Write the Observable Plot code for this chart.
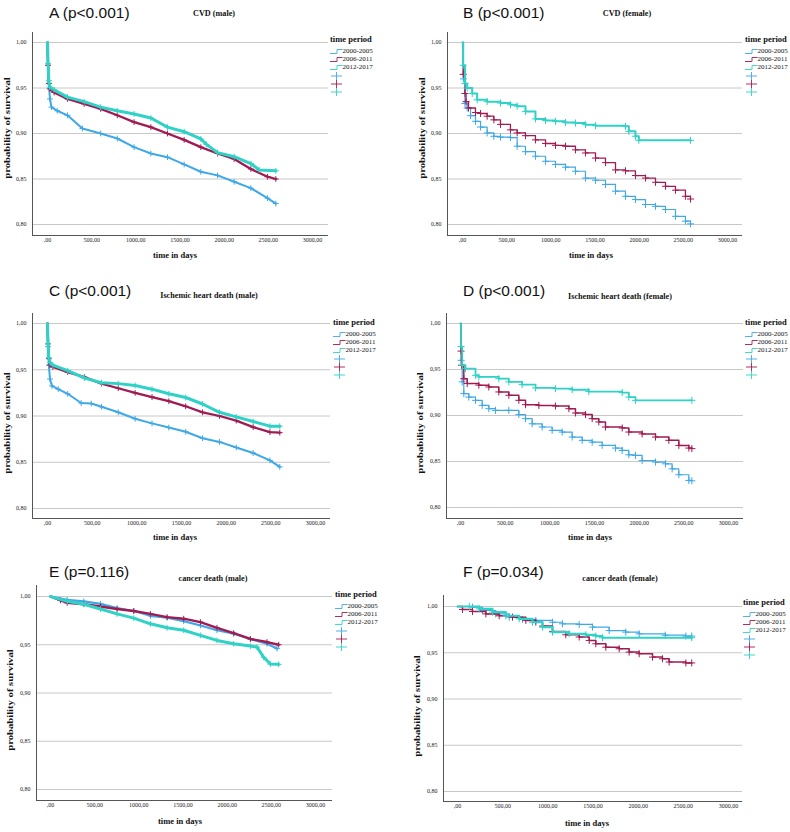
<!DOCTYPE html>
<html><head><meta charset="utf-8">
<script src="https://cdn.jsdelivr.net/npm/d3@7"></script>
<script src="https://cdn.jsdelivr.net/npm/@observablehq/plot@0.6"></script>
<style>
body{margin:0;background:#fff;}
#page{position:relative;width:790px;height:832px;overflow:hidden;background:#fff;}
.t{position:absolute;white-space:nowrap;line-height:1;color:#111;}
.serif{font-family:"Liberation Serif","Times New Roman",serif;}
.sans{font-family:"Liberation Sans",Arial,sans-serif;}
svg text{font-family:"Liberation Serif","Times New Roman",serif;}
</style></head><body><div id="page"></div>
<script>
// ---------- labels ----------
const periods = ["2000-2005", "2006-2011", "2012-2017"];
const periodColors = ["#3fa8e6", "#a11b52", "#2fd2c6"];
const yTicks = [0.80, 0.85, 0.90, 0.95, 1.00];
const yTickLabels = ["0,80", "0,85", "0,90", "0,95", "1,00"];
const xTicks = [0, 500, 1000, 1500, 2000, 2500, 3000];
const xTickLabels = [",00", "500,00", "1000,00", "1500,00", "2000,00", "2500,00", "3000,00"];
const panelTitles = ["A (p<0.001)", "B (p<0.001)", "C (p<0.001)", "D (p<0.001)", "E (p=0.116)", "F (p=0.034)"];
const panelSubtitles = ["CVD (male)", "CVD (female)", "Ischemic heart death (male)", "Ischemic heart death (female)", "cancer death (male)", "cancer death (female)"];
const xLabel = "time in days";
const yLabel = "probability of survival";
const legendTitle = "time period";

// ---------- data: [day, survival] ----------
const cvdMale2000 = [[0,1],[6,0.975],[15,0.955],[28,0.938],[45,0.929],[110,0.925],[226,0.920],[395,0.9055],[602,0.900],[790,0.8945],[980,0.885],[1170,0.878],[1358,0.874],[1547,0.866],[1736,0.858],[1925,0.854],[2113,0.847],[2302,0.840],[2490,0.829],[2585,0.823]];
const cvdMale2006 = [[0,1],[6,0.975],[15,0.955],[25,0.949],[75,0.945],[226,0.938],[415,0.9325],[602,0.927],[790,0.920],[980,0.9125],[1170,0.907],[1358,0.900],[1547,0.893],[1736,0.885],[1925,0.878],[2113,0.872],[2302,0.861],[2490,0.8525],[2585,0.850]];
const cvdMale2012 = [[0,1],[6,0.977],[15,0.958],[25,0.951],[75,0.948],[226,0.940],[415,0.935],[602,0.929],[790,0.925],[980,0.9215],[1170,0.917],[1358,0.907],[1547,0.902],[1736,0.894],[1800,0.888],[1925,0.879],[2113,0.8745],[2302,0.867],[2396,0.860],[2585,0.859]];

const cvdFemale2000 = [[0,1],[10,0.96],[28,0.933],[53,0.928],[91,0.9196],[147,0.9134],[204,0.9071],[279,0.9006],[355,0.8969],[430,0.896],[543,0.8955],[619,0.886],[713,0.880],[826,0.875],[940,0.8695],[1053,0.866],[1166,0.863],[1279,0.8585],[1392,0.851],[1506,0.8486],[1619,0.844],[1732,0.8366],[1845,0.831],[1958,0.8274],[2072,0.822],[2185,0.820],[2298,0.8165],[2411,0.809],[2524,0.8037],[2581,0.8007]];
const cvdFemale2006 = [[0,1],[8,0.965],[28,0.944],[40,0.935],[68,0.928],[147,0.923],[204,0.922],[279,0.919],[355,0.915],[430,0.910],[543,0.904],[619,0.9006],[713,0.8976],[826,0.893],[940,0.889],[1053,0.887],[1166,0.886],[1279,0.882],[1392,0.8786],[1506,0.873],[1619,0.868],[1732,0.860],[1845,0.859],[1958,0.8538],[2072,0.851],[2185,0.8464],[2298,0.842],[2411,0.8377],[2524,0.831],[2581,0.828]];
const cvdFemale2012 = [[0,1],[8,0.975],[28,0.955],[53,0.950],[110,0.944],[166,0.937],[279,0.935],[430,0.9335],[543,0.9316],[619,0.930],[713,0.9243],[826,0.916],[940,0.9144],[1053,0.9134],[1166,0.912],[1279,0.9115],[1392,0.9097],[1506,0.9086],[1845,0.9079],[1883,0.9024],[1958,0.897],[1996,0.8925],[2581,0.8925]];

const ihdMale2000 = [[0,1],[6,0.975],[15,0.955],[28,0.940],[50,0.9325],[120,0.929],[226,0.924],[377,0.914],[490,0.9135],[604,0.910],[792,0.904],[981,0.897],[1170,0.892],[1358,0.8875],[1547,0.883],[1736,0.876],[1925,0.872],[2113,0.866],[2302,0.860],[2490,0.852],[2600,0.845]];
const ihdMale2006 = [[0,1],[6,0.978],[15,0.962],[28,0.955],[60,0.953],[226,0.9475],[415,0.942],[604,0.935],[792,0.930],[981,0.925],[1170,0.9205],[1358,0.916],[1547,0.9105],[1736,0.904],[1925,0.900],[2113,0.895],[2302,0.888],[2490,0.8825],[2600,0.882]];
const ihdMale2012 = [[0,1],[6,0.978],[15,0.963],[28,0.958],[60,0.955],[226,0.949],[415,0.941],[604,0.936],[792,0.935],[981,0.933],[1170,0.929],[1358,0.924],[1547,0.920],[1736,0.913],[1925,0.904],[2113,0.899],[2302,0.894],[2490,0.889],[2600,0.889]];

const ihdFemale2000 = [[0,1],[8,0.96],[19,0.9365],[37,0.9238],[93,0.920],[168,0.9165],[243,0.911],[317,0.9074],[392,0.9056],[541,0.9056],[653,0.901],[728,0.8966],[802,0.891],[914,0.8875],[1026,0.8838],[1138,0.882],[1250,0.8766],[1362,0.873],[1474,0.871],[1586,0.8675],[1735,0.8646],[1810,0.862],[1884,0.8573],[1959,0.8566],[2033,0.851],[2183,0.8494],[2295,0.8475],[2369,0.842],[2444,0.8356],[2556,0.8294],[2590,0.829]];
const ihdFemale2006 = [[0,1],[6,0.97],[11,0.9546],[37,0.940],[75,0.9347],[205,0.933],[317,0.931],[429,0.9256],[541,0.922],[653,0.9165],[728,0.9118],[877,0.911],[1063,0.9103],[1213,0.9074],[1287,0.9027],[1399,0.901],[1474,0.8966],[1548,0.893],[1623,0.8875],[1810,0.8864],[1884,0.882],[2033,0.880],[2183,0.8766],[2332,0.873],[2444,0.8675],[2556,0.8646],[2590,0.864]];
const ihdFemale2012 = [[0,1],[6,0.975],[19,0.9546],[56,0.951],[168,0.9437],[205,0.9419],[429,0.940],[541,0.9365],[690,0.9336],[840,0.930],[1063,0.9292],[1250,0.928],[1436,0.926],[1810,0.9249],[1884,0.920],[1959,0.9165],[2590,0.9165]];

const cancerMale2000 = [[0,1],[189,0.9966],[377,0.995],[566,0.9924],[754,0.988],[943,0.985],[1131,0.980],[1320,0.978],[1508,0.9745],[1697,0.970],[1885,0.965],[2074,0.9614],[2263,0.956],[2451,0.951],[2564,0.946]];
const cancerMale2006 = [[0,1],[113,0.996],[189,0.9934],[377,0.992],[566,0.9897],[754,0.987],[943,0.985],[1131,0.982],[1320,0.9786],[1508,0.977],[1697,0.9735],[1885,0.9676],[2074,0.962],[2263,0.956],[2451,0.9528],[2583,0.950]];
const cancerMale2012 = [[0,1],[189,0.995],[377,0.992],[566,0.987],[754,0.982],[943,0.9776],[1131,0.9717],[1320,0.9676],[1508,0.965],[1697,0.9597],[1885,0.9545],[2074,0.951],[2263,0.9486],[2338,0.9476],[2413,0.937],[2489,0.930],[2583,0.9297]];

const cancerFemale2000 = [[0,1],[166,0.9993],[277,0.9957],[424,0.992],[572,0.9885],[720,0.986],[867,0.985],[1052,0.983],[1162,0.9813],[1347,0.9806],[1494,0.9777],[1679,0.974],[1863,0.9723],[2011,0.9705],[2300,0.969],[2528,0.968],[2593,0.968]];
const cancerFemale2006 = [[0,1],[55,0.9968],[166,0.9946],[314,0.992],[461,0.990],[609,0.9885],[756,0.985],[867,0.983],[941,0.9788],[1052,0.973],[1199,0.9694],[1347,0.967],[1458,0.9633],[1531,0.9597],[1642,0.956],[1790,0.9543],[1900,0.9507],[2011,0.949],[2159,0.9453],[2269,0.9435],[2343,0.940],[2528,0.939],[2593,0.939]];
const cancerFemale2012 = [[0,1],[130,1.0],[240,0.9975],[387,0.9939],[535,0.990],[683,0.9867],[830,0.983],[941,0.9777],[1052,0.9723],[1236,0.9705],[1421,0.9694],[1531,0.968],[1605,0.9662],[2593,0.9662]];

// ---------- layout (page pixels) ----------
const panels = [
  {series:[cvdMale2000,cvdMale2006,cvdMale2012], curve:"linear", widths:[2,2.3,3], r:2,
   g:{left:32,right:328,top:32,bottom:235,x0:47,x3000:312,y100:42,y080:224},
   title:[49,18], sub:[214,17], xl:[175,258], yl:[7,128], leg:[330,42]},
  {series:[cvdFemale2000,cvdFemale2006,cvdFemale2012], curve:"step-after", widths:[1.2,1.3,2], r:2.4,
   g:{left:447,right:742,top:32,bottom:235,x0:462,x3000:727,y100:42,y080:224},
   title:[463,18], sub:[627,17], xl:[591,258], yl:[422,128], leg:[745,42]},
  {series:[ihdMale2000,ihdMale2006,ihdMale2012], curve:"linear", widths:[2,2.3,3], r:2,
   g:{left:32,right:330,top:313,bottom:518,x0:47,x3000:315,y100:323,y080:508},
   title:[49,296], sub:[209,299], xl:[175,540], yl:[7,423], leg:[333,325]},
  {series:[ihdFemale2000,ihdFemale2006,ihdFemale2012], curve:"step-after", widths:[1.2,1.5,1.8], r:2.4,
   g:{left:446,right:743,top:313,bottom:518,x0:460,x3000:728,y100:323,y080:507},
   title:[463,296], sub:[620,300], xl:[590,540], yl:[420,423], leg:[745,325]},
  {series:[cancerMale2000,cancerMale2006,cancerMale2012], curve:"linear", widths:[2.2,2.4,3], r:2,
   g:{left:36,right:332,top:585,bottom:800,x0:50,x3000:315,y100:596,y080:789},
   title:[49,577], sub:[213,582], xl:[180,824], yl:[10,700], leg:[335,597]},
  {series:[cancerFemale2000,cancerFemale2006,cancerFemale2012], curve:"step-after", widths:[1.2,1.5,2.2], r:2.4,
   g:{left:443,right:742,top:595,bottom:801,x0:457,x3000:728,y100:606,y080:791},
   title:[463,577], sub:[620,582], xl:[587,826], yl:[417,706], leg:[743,605]}
];

const page = document.getElementById("page");

function addText(txt, x, baseline, size, cls, opts = {}) {
  const d = document.createElement("div");
  d.className = "t " + cls;
  d.textContent = txt;
  d.style.fontSize = size + "px";
  if (opts.bold) d.style.fontWeight = "bold";
  d.style.top = (baseline - 0.84 * size) + "px";
  d.style.left = x + "px";
  if (opts.center) d.style.transform = "translateX(-50%)";
  page.appendChild(d);
  return d;
}

panels.forEach((p, pi) => {
  const g = p.g;
  const mL = 26, mT = 5, mR = 5, mB = 14;
  const pxPerDay = (g.x3000 - g.x0) / 3000;
  const pxPerUnit = (g.y080 - g.y100) / 0.2;
  const xDom = [(g.left - g.x0) / pxPerDay, (g.right - g.x0) / pxPerDay];
  const yDom = [0.8 - (g.bottom - g.y080) / pxPerUnit, 1 + (g.y100 - g.top) / pxPerUnit];
  const width = mL + (g.right - g.left) + mR;
  const height = mT + (g.bottom - g.top) + mB;
  const marks = [
    Plot.gridY({ticks: yTicks, stroke: "#c8c8c8", strokeOpacity: 1, strokeWidth: 1}),
    Plot.axisY({ticks: yTicks, tickSize: 0, tickPadding: 6, label: null,
      tickFormat: d => yTickLabels[yTicks.indexOf(d)]}),
    Plot.axisX({ticks: xTicks, tickSize: 0, tickPadding: 2, label: null,
      tickFormat: d => xTickLabels[xTicks.indexOf(d)]}),
    Plot.ruleX([xDom[0]], {stroke: "#555", strokeWidth: 1}),
    Plot.ruleY([yDom[0]], {stroke: "#555", strokeWidth: 1})
  ];
  p.series.forEach((s, i) => {
    const rows = s.map(([day, surv]) => ({day, surv, period: periods[i]}));
    marks.push(Plot.line(rows, {x: "day", y: "surv", stroke: periodColors[i], strokeWidth: p.widths[i], curve: p.curve}));
    marks.push(Plot.dot(rows.slice(1), {x: "day", y: "surv", symbol: "plus", r: p.r, stroke: periodColors[i], strokeWidth: 1}));
  });
  const svg = Plot.plot({
    width, height,
    marginLeft: mL, marginTop: mT, marginRight: mR, marginBottom: mB,
    x: {domain: xDom},
    y: {domain: yDom},
    style: {fontFamily: '"Liberation Serif", serif', fontSize: "6px", color: "#222", background: "transparent", overflow: "visible"},
    marks
  });
  svg.style.position = "absolute";
  svg.style.left = (g.left - mL) + "px";
  svg.style.top = (g.top - mT) + "px";
  page.appendChild(svg);

  // titles and axis labels
  addText(panelTitles[pi], p.title[0], p.title[1], 15.5, "sans");
  addText(panelSubtitles[pi], p.sub[0], p.sub[1], 8.2, "serif", {bold: true, center: true});
  addText(xLabel, p.xl[0], p.xl[1], 8.5, "serif", {bold: true, center: true});
  const yl = document.createElement("div");
  yl.className = "t serif";
  yl.textContent = yLabel;
  yl.style.fontSize = "8.5px";
  yl.style.fontWeight = "bold";
  yl.style.left = p.yl[0] + "px";
  yl.style.top = p.yl[1] + "px";
  yl.style.transform = "translate(-50%,-50%) rotate(-90deg) scaleX(1.25)";
  page.appendChild(yl);

  // legend
  const [lx, ly] = p.leg;
  addText(legendTitle, lx, ly, 8.5, "serif", {bold: true});
  periods.forEach((per, i) => {
    const base = ly + 11.5 + i * 8.2;
    const ic = document.createElementNS("http://www.w3.org/2000/svg", "svg");
    ic.setAttribute("width", 13); ic.setAttribute("height", 6);
    ic.style.position = "absolute";
    ic.style.left = lx + "px";
    ic.style.top = (base - 5) + "px";
    ic.innerHTML = `<path d="M0,4.5H7V0.5H12.5" fill="none" stroke="${periodColors[i]}" stroke-width="0.9"/>`;
    page.appendChild(ic);
    addText(per, lx + 12.5, base, 7, "serif");
  });
  periods.forEach((per, i) => {
    const cy = ly + 33.5 + i * 8.2;
    const ic = document.createElementNS("http://www.w3.org/2000/svg", "svg");
    ic.setAttribute("width", 12); ic.setAttribute("height", 8);
    ic.style.position = "absolute";
    ic.style.left = (lx + 1) + "px";
    ic.style.top = (cy - 4) + "px";
    ic.innerHTML = `<path d="M0,4H11M5.5,0V8" fill="none" stroke="${periodColors[i]}" stroke-width="0.9"/>`;
    page.appendChild(ic);
  });
});
</script>
</body></html>
